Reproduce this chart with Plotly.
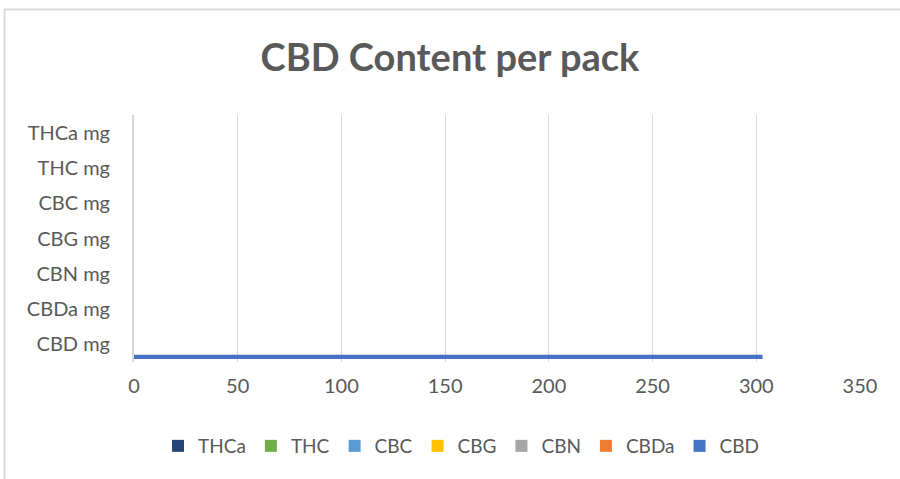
import plotly.graph_objects as go

categories = ["CBD mg", "CBDa mg", "CBN mg", "CBG mg", "CBC mg", "THC mg", "THCa mg"]
series_names = ["CBD", "CBDa", "CBN", "CBG", "CBC", "THC", "THCa"]
series_values = {
    "CBD":  [303, 0, 0, 0, 0, 0, 0],
    "CBDa": [0, 0, 0, 0, 0, 0, 0],
    "CBN":  [0, 0, 0, 0, 0, 0, 0],
    "CBG":  [0, 0, 0, 0, 0, 0, 0],
    "CBC":  [0, 0, 0, 0, 0, 0, 0],
    "THC":  [0, 0, 0, 0, 0, 0, 0],
    "THCa": [0, 0, 0, 0, 0, 0, 0],
}
series_colors = {
    "CBD": "#4472C4", "CBDa": "#ED7D31", "CBN": "#A5A5A5", "CBG": "#FFC000",
    "CBC": "#5B9BD5", "THC": "#70AD47", "THCa": "#264478",
}
x_ticks = [0, 50, 100, 150, 200, 250, 300, 350]

FONT = "Lato, 'Open Sans', sans-serif"
GRAY = "#595959"

fig = go.Figure()
for name in series_names:
    fig.add_trace(go.Bar(
        y=categories, x=series_values[name], name=name, orientation="h",
        marker=dict(color=series_colors[name], line=dict(width=0)),
    ))

W, H = 900, 479
ml, mr, mt, mb = 134, 40, 115, 117
pw, ph = W - ml - mr, H - mt - mb

def px(x):
    return (x - ml) / pw

def py(y):
    return (H - mb - y) / ph

fig.update_layout(
    width=W, height=H,
    margin=dict(l=ml, r=mr, t=mt, b=mb),
    paper_bgcolor="white", plot_bgcolor="white",
    barmode="group", bargap=1.5 / 8.5, bargroupgap=0,
    title=dict(text="<b>CBD Content per pack</b>", x=0.5, xanchor="center",
               y=1 - 58 / H, yanchor="middle",
               font=dict(family=FONT, size=38, color=GRAY)),
    font=dict(family=FONT, size=20, color=GRAY),
    showlegend=True,
    legend=dict(orientation="h", traceorder="reversed", x=px(461), xanchor="center",
                y=py(446), yanchor="middle", font=dict(size=19, color=GRAY),
                itemwidth=30),
    xaxis=dict(range=[0, 350], tickvals=x_ticks, showgrid=True,
               gridcolor="#D9D9D9", gridwidth=1.3, zeroline=False,
               showline=False, ticks="", ticklabelstandoff=10,
               tickfont=dict(size=20, color=GRAY), fixedrange=True),
    yaxis=dict(categoryorder="array", categoryarray=categories,
               showgrid=False, showline=True, linecolor="#D9D9D9", linewidth=2,
               ticks="", ticklabelstandoff=18,
               tickfont=dict(size=20, color=GRAY), fixedrange=True),
    shapes=[
        dict(type="line", xref="paper", yref="paper", x0=px(4), x1=px(900),
             y0=py(9.5), y1=py(9.5), line=dict(color="#D9D9D9", width=2)),
        dict(type="line", xref="paper", yref="paper", x0=px(4.5), x1=px(4.5),
             y0=py(9), y1=py(479), line=dict(color="#D9D9D9", width=2)),
    ],
)

fig.write_html(
    "out.html",
    config={"displayModeBar": False},
    post_script="document.body.style.margin='0px';document.body.style.overflow='hidden';",
)
